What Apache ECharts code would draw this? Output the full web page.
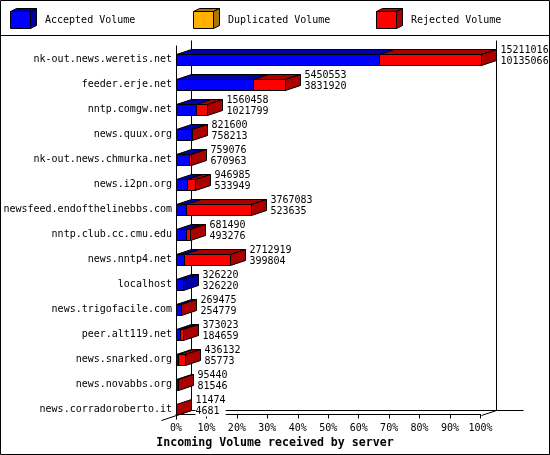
<!DOCTYPE html>
<html>
<head>
<meta charset="utf-8">
<script src="https://cdn.jsdelivr.net/npm/echarts@6/dist/echarts.min.js"></script>
<style>
html,body{margin:0;padding:0;background:#fff;}
#chart{width:550px;height:455px;}
</style>
</head>
<body>
<div id="chart"></div>
<script>
const categories = [
  'nk-out.news.weretis.net', 'feeder.erje.net', 'nntp.comgw.net', 'news.quux.org',
  'nk-out.news.chmurka.net', 'news.i2pn.org', 'newsfeed.endofthelinebbs.com',
  'nntp.club.cc.cmu.edu', 'news.nntp4.net', 'localhost', 'news.trigofacile.com',
  'peer.alt119.net', 'news.snarked.org', 'news.novabbs.org', 'news.corradoroberto.it'
];
const totalVolume = [15211016, 5450553, 1560458, 821600, 759076, 946985, 3767083, 681490, 2712919, 326220, 269475, 373023, 436132, 95440, 11474];
const acceptedVolume = [10135066, 3831920, 1021799, 758213, 670963, 533949, 523635, 493276, 399804, 326220, 254779, 184659, 85773, 81546, 4681];
const duplicatedVolume = [0, 0, 0, 0, 0, 0, 0, 0, 0, 0, 0, 0, 0, 0, 0];
const seriesNames = ['Accepted Volume', 'Duplicated Volume', 'Rejected Volume'];
const frontColors = ['#0000ff', '#ffb000', '#ff0000'];
const darkColors = ['#0000aa', '#aa7500', '#aa0000'];
const xTickLabels = ['0%', '10%', '20%', '30%', '40%', '50%', '60%', '70%', '80%', '90%', '100%'];
const axisTitle = 'Incoming Volume received by server';

const FONT = '10px "DejaVu Sans Mono", "Liberation Mono", monospace';
const DX = 15, DY = 5, FACE_H = 11;
const maxTotal = Math.max.apply(null, totalVolume);

const barData = categories.map(function (c, i) {
  const acc = acceptedVolume[i] / maxTotal * 100;
  const dup = (acceptedVolume[i] + duplicatedVolume[i]) / maxTotal * 100;
  const tot = totalVolume[i] / maxTotal * 100;
  return [i, acc, dup, tot, totalVolume[i], acceptedVolume[i]];
});

function px(v) { return Math.round(v) + 0.5; }

function renderBar(params, api) {
  const i = api.value(0);
  const vals = [0, api.value(1), api.value(2), api.value(3)];
  const base = api.coord([0, i]);
  const yc = base[1];
  const yt = Math.round(yc - FACE_H / 2) + 0.5;
  const yb = yt + FACE_H;
  const xs = vals.map(function (v) { return px(api.coord([v, i])[0]); });
  const children = [];
  let lastDark = darkColors[0];
  for (let s = 0; s < 3; s++) {
    if (vals[s + 1] - vals[s] > 0) lastDark = darkColors[s];
    const x1 = xs[s], x2 = xs[s + 1];
    if (x2 - x1 < 0.5) continue;
    children.push({
      type: 'polygon',
      shape: { points: [[x1, yt], [x2, yt], [x2 + DX, yt - DY], [x1 + DX, yt - DY]] },
      style: { fill: darkColors[s], stroke: '#000', lineWidth: 1 }
    });
    children.push({
      type: 'rect',
      shape: { x: x1, y: yt, width: x2 - x1, height: FACE_H },
      style: { fill: frontColors[s], stroke: '#000', lineWidth: 1 }
    });
  }
  const xt = xs[3];
  children.push({
    type: 'polygon',
    shape: { points: [[xt, yt], [xt + DX, yt - DY], [xt + DX, yb - DY], [xt, yb]] },
    style: { fill: lastDark, stroke: '#000', lineWidth: 1 }
  });
  children.push({
    type: 'text',
    style: {
      text: api.value(4) + '\n' + api.value(5),
      x: xt + DX + 4,
      y: yc - 4,
      font: FONT,
      fill: '#000',
      verticalAlign: 'middle',
      align: 'left',
      lineHeight: 11,
      backgroundColor: '#fff'
    }
  });
  return { type: 'group', children: children };
}

function renderFrame(params, api) {
  const f0 = api.coord([0, 0]);
  const f1 = api.coord([100, 0]);
  const top = api.coord([0, 1]);
  const xL = px(f0[0]), xR = px(f1[0]);
  const yF = px(f0[1]), yT = px(top[1]);
  const ls = { stroke: '#000', lineWidth: 1 };
  return {
    type: 'group',
    children: [
      { type: 'line', shape: { x1: xL + DX, y1: yT, x2: xL + DX, y2: yF - DY }, style: ls },
      { type: 'line', shape: { x1: xR + DX, y1: yT, x2: xR + DX, y2: yF - DY }, style: ls },
      { type: 'line', shape: { x1: xL + DX, y1: yF - DY, x2: xR + DX + 27, y2: yF - DY }, style: ls },
      { type: 'line', shape: { x1: xL - DX, y1: yF + DY, x2: xL + DX, y2: yF - DY }, style: ls },
      { type: 'line', shape: { x1: xR, y1: yF, x2: xR + DX, y2: yF - DY }, style: ls },
      { type: 'line', shape: { x1: xL, y1: yT + DY, x2: xL, y2: yF + 4 }, style: ls }
    ]
  };
}

const legendGraphics = [];
seriesNames.forEach(function (name, k) {
  const bx = 10 + k * 183, by = 11, bw = 20, bh = 17, ddx = 6, ddy = 3;
  legendGraphics.push({
    type: 'polygon', shape: { points: [[bx + 0.5, by + 0.5], [bx + bw + 0.5, by + 0.5], [bx + bw + ddx + 0.5, by - ddy + 0.5], [bx + ddx + 0.5, by - ddy + 0.5]] },
    style: { fill: darkColors[k], stroke: '#000', lineWidth: 1 }
  });
  legendGraphics.push({
    type: 'polygon', shape: { points: [[bx + bw + 0.5, by + 0.5], [bx + bw + ddx + 0.5, by - ddy + 0.5], [bx + bw + ddx + 0.5, by + bh - ddy + 0.5], [bx + bw + 0.5, by + bh + 0.5]] },
    style: { fill: darkColors[k], stroke: '#000', lineWidth: 1 }
  });
  legendGraphics.push({
    type: 'rect', shape: { x: bx + 0.5, y: by + 0.5, width: bw, height: bh },
    style: { fill: frontColors[k], stroke: '#000', lineWidth: 1 }
  });
  legendGraphics.push({
    type: 'text', style: { text: name, x: bx + 35, y: 20, font: FONT, fill: '#000', verticalAlign: 'middle' }
  });
});
legendGraphics.push({ type: 'line', shape: { x1: 0, y1: 35.5, x2: 550, y2: 35.5 }, style: { stroke: '#000', lineWidth: 1 } });
legendGraphics.push({ type: 'rect', shape: { x: 0.5, y: 0.5, width: 549, height: 454 }, style: { fill: 'none', stroke: '#000', lineWidth: 1 }, z: 100 });

const chart = echarts.init(document.getElementById('chart'), null, { renderer: 'canvas' });
chart.setOption({
  backgroundColor: '#fff',
  animation: false,
  title: {
    text: axisTitle, left: 'center', top: 432,
    textStyle: { fontFamily: '"DejaVu Sans Mono", monospace', fontWeight: 'bold', fontSize: 11.6, color: '#000' }
  },
  graphic: legendGraphics,
  grid: [
    { left: 176, width: 304.5, top: 47, height: 375 },
    { left: 176, width: 304.5, top: 40, bottom: 40.5 }
  ],
  xAxis: [
    { gridIndex: 0, type: 'value', min: 0, max: 100, show: false },
    {
      gridIndex: 1, type: 'value', min: 0, max: 100, interval: 10,
      axisLine: { show: true, lineStyle: { color: '#000', width: 1 } },
      axisTick: { show: true, length: 4, lineStyle: { color: '#000' } },
      splitLine: { show: false },
      axisLabel: {
        margin: 9, color: '#000', fontFamily: '"DejaVu Sans Mono", monospace', fontSize: 10,
        formatter: function (v) { return xTickLabels[Math.round(v / 10)]; }
      }
    }
  ],
  yAxis: [
    {
      gridIndex: 0, type: 'category', data: categories, inverse: true,
      axisLine: { show: false }, axisTick: { show: false }, splitLine: { show: false },
      axisLabel: { margin: 4, color: '#000', fontFamily: '"DejaVu Sans Mono", monospace', fontSize: 10 }
    },
    { gridIndex: 1, type: 'value', min: 0, max: 1, show: false }
  ],
  series: [
    { type: 'custom', xAxisIndex: 1, yAxisIndex: 1, z: 1, renderItem: renderFrame, data: [[0, 0]], silent: true },
    { type: 'custom', xAxisIndex: 0, yAxisIndex: 0, z: 2, renderItem: renderBar, data: barData, clip: false,
      encode: { x: [1, 2, 3], y: 0 } }
  ]
});
</script>
</body>
</html>
